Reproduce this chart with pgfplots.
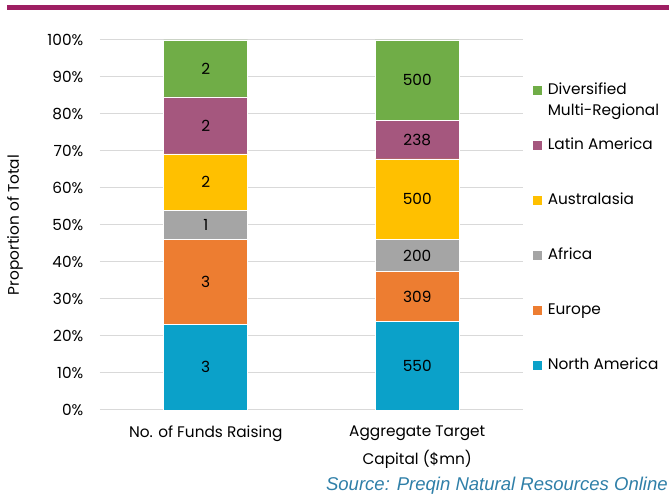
\documentclass[border=0pt]{standalone}
\usepackage{pgfplots}
\pgfplotsset{compat=1.18}
\usepackage{pgfplotstable}
\usepackage{fontspec}
\setmainfont{Poppins}
\newfontfamily\srcfont{Liberation Sans}
\newcommand\f{\fontsize{11.5}{13.8}\selectfont}
\definecolor{cNA}{HTML}{0BA1C9}
\definecolor{cEU}{HTML}{ED7D31}
\definecolor{cAF}{HTML}{A5A5A5}
\definecolor{cAU}{HTML}{FFC000}
\definecolor{cLA}{HTML}{A5577E}
\definecolor{cDV}{HTML}{70AD47}
\definecolor{topbar}{HTML}{9E1F63}
\definecolor{gridgray}{HTML}{D9D9D9}
\definecolor{srcblue}{HTML}{2F7FA8}

\pgfplotstableread{
x total na eu af au la dv
0 13 3 3 1 2 2 2
1 2297 550 309 200 500 238 500
}\data

\pgfplotstableread{
x y lab
0 11.54 3
0 34.62 3
0 50.00 1
0 61.54 2
0 76.92 2
0 92.31 2
1 11.97 550
1 30.67 309
1 41.75 200
1 56.99 500
1 73.05 238
1 89.12 500
}\labels

\begin{document}
\begin{tikzpicture}
\useasboundingbox (0pt,0pt) rectangle (501.75pt,371.25pt);
\fill[topbar] (5.25pt,363.75pt) rectangle (501.75pt,367.5pt);
\begin{axis}[
  at={(75pt,63.75pt)}, anchor=south west,
  scale only axis, width=317.25pt, height=277.5pt,
  ybar stacked, bar width=63pt,
  xmin=-0.5, xmax=1.5, ymin=0, ymax=100,
  xtick={0,1},
  xticklabels={No. of Funds Raising, {Aggregate Target\\[5.7pt]Capital (\$mn)}},
  xticklabel style={align=center, font=\f, yshift=-8.5pt},
  ytick={0,10,...,100},
  yticklabel={\pgfmathprintnumber{\tick}\%},
  yticklabel style={font=\f, xshift=-9pt},
  /pgf/number format/assume math mode=true,
  ymajorgrids, grid style={draw=gridgray, line width=0.75pt},
  axis line style={draw=none},
  tick style={draw=none},
  every axis y label/.style={at={(axis description cs:-0.201,0.5)}, rotate=90, anchor=center, font=\f},
  ylabel={Proportion of Total},
  reverse legend,
  legend style={at={(1,1)}, anchor=north west, xshift=6.75pt, yshift=-33pt,
    draw=none, fill=none, inner sep=0pt, row sep=31.25pt, column sep=3.75pt, font=\f,
    nodes={inner sep=0pt, text height=8pt, text depth=2pt},
    cells={anchor=base west}},
  legend image code/.code={\fill[#1] (0pt,0pt) rectangle (7.5pt,7.5pt);},
]
\addplot[fill=cNA, draw=white, line width=0.4pt] table[x=x, y expr=\thisrow{na}/\thisrow{total}*100]{\data};
\addlegendentry{North America}
\addplot[fill=cEU, draw=white, line width=0.4pt] table[x=x, y expr=\thisrow{eu}/\thisrow{total}*100]{\data};
\addlegendentry{Europe}
\addplot[fill=cAF, draw=white, line width=0.4pt] table[x=x, y expr=\thisrow{af}/\thisrow{total}*100]{\data};
\addlegendentry{Africa}
\addplot[fill=cAU, draw=white, line width=0.4pt] table[x=x, y expr=\thisrow{au}/\thisrow{total}*100]{\data};
\addlegendentry{Australasia}
\addplot[fill=cLA, draw=white, line width=0.4pt] table[x=x, y expr=\thisrow{la}/\thisrow{total}*100]{\data};
\addlegendentry{Latin America}
\addplot[fill=cDV, draw=white, line width=0.4pt] table[x=x, y expr=\thisrow{dv}/\thisrow{total}*100]{\data};
\addlegendentry{\begin{tabular}[t]{@{}l@{}}Diversified\\[2pt]Multi-Regional\end{tabular}}
\end{axis}
\begin{axis}[
  at={(75pt,63.75pt)}, anchor=south west,
  scale only axis, width=317.25pt, height=277.5pt,
  xmin=-0.5, xmax=1.5, ymin=0, ymax=100,
  hide axis,
]
\addplot[only marks, mark=*, mark size=0pt, mark options={draw=none, fill=none},
  nodes near coords, point meta=explicit symbolic,
  every node near coord/.style={anchor=center, font=\f, text=black}]
  table[x=x, y=y, meta=lab]{\labels};
\end{axis}
\node[anchor=base east, inner sep=0pt, text=srcblue, font=\srcfont\itshape\fontsize{13.9}{15}\selectfont] at (501pt,3pt) {Source: Preqin Natural Resources Online};
\end{tikzpicture}
\end{document}
